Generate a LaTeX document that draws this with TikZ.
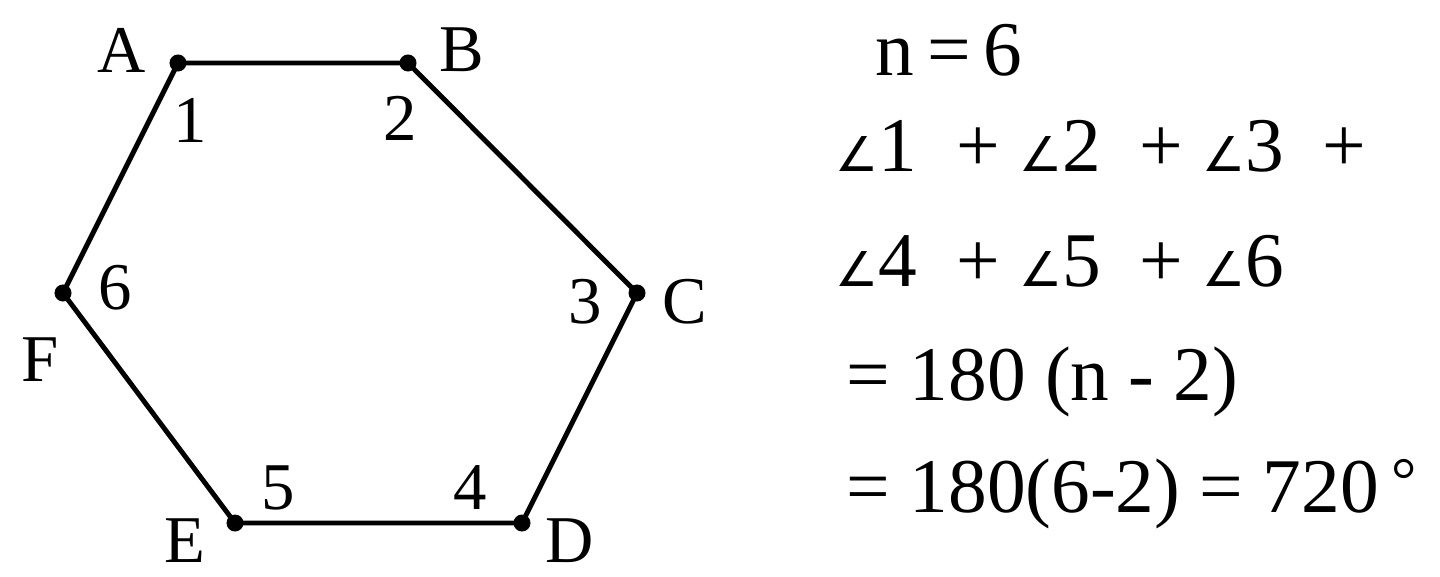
\documentclass[tikz,border=0pt]{standalone}
\usepackage{fontspec}
\usepackage{graphicx}
\setmainfont{Liberation Serif}
\newfontfamily\symfont{DejaVu Sans}
\newcommand{\ang}{\scalebox{0.62}{\symfont ∠}}
\begin{document}
\begin{tikzpicture}[x=0.01cm,y=-0.01cm,
  vdot/.style={circle,fill=black,inner sep=0pt,minimum size=0.17cm},
  edge/.style={line width=1.4pt,black},
  vlabel/.style={font=\fontsize{19}{22}\selectfont,inner sep=0pt},
  alabel/.style={font=\fontsize{19}{22}\selectfont,inner sep=0pt},
  eqtext/.style={font=\fontsize{22}{26}\selectfont,inner sep=0pt,anchor=base west}]
\useasboundingbox (0,0) rectangle (1440,576);
% vertices
\node[vdot] (A) at (178,63) {};
\node[vdot] (B) at (408,63) {};
\node[vdot] (C) at (637,293) {};
\node[vdot] (D) at (522,523) {};
\node[vdot] (E) at (235,523) {};
\node[vdot] (F) at (63,293) {};
\draw[edge] (A.center) -- (B.center) -- (C.center) -- (D.center) -- (E.center) -- (F.center) -- cycle;
% vertex labels
\node[vlabel] (lA) at (122,50) {A};
\node[vlabel] (lB) at (462,50) {B};
\node[vlabel] (lC) at (685,302) {C};
\node[vlabel] (lD) at (570,541) {D};
\node[vlabel] (lE) at (185,541) {E};
\node[vlabel] (lF) at (40,360) {F};
% angle numbers
\node[alabel] (n1) at (190,120) {1};
\node[alabel] (n2) at (400,118) {2};
\node[alabel] (n3) at (585,302) {3};
\node[alabel] (n4) at (470,488) {4};
\node[alabel] (n5) at (278,488) {5};
\node[alabel] (n6) at (115,288) {6};
% equations
\node[eqtext] (r1) at (875,76) {n\,=\,6};
\node[eqtext] (r2) at (835,172) {\ang1\ \ + \ang2\ \ + \ang3\ \ +};
\node[eqtext] (r3) at (835,286) {\ang4\ \ + \ang5\ \ + \ang6};
\node[eqtext] (r4) at (846,400) {= 180 (n - 2)};
\node[eqtext] (r5) at (846,512) {= 180(6-2) = 720\,\raisebox{0.3ex}{\fontsize{18}{20}\selectfont °}};
\end{tikzpicture}
\end{document}
